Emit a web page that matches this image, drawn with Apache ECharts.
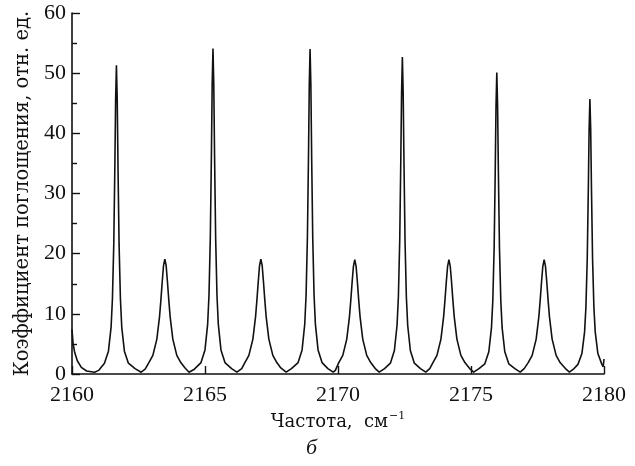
<!DOCTYPE html>
<html>
<head>
<meta charset="utf-8">
<script src="https://cdn.jsdelivr.net/npm/echarts@6/dist/echarts.min.js"></script>
<style>
html,body{margin:0;padding:0;background:#fff;}
#chart{width:635px;height:466px;}
</style>
</head>
<body>
<div id="chart"></div>
<script>
// x-axis settings (cm^-1)
const xMin = 2160, xMax = 2180, xStep = 5;
// y-axis settings
const yMin = 0, yMax = 60, yStep = 10;

// Absorption spectrum: [frequency, absorption], segment by segment
const startTail = [[2160.00,7.4],[2160.04,5.1],[2160.10,3.6],[2160.20,2.2],[2160.35,1.1],[2160.55,0.5],[2160.85,0.3],[2161.00,0.6]];
const peak1 = [[2161.22,1.8],[2161.37,3.8],[2161.47,7.8],[2161.52,12.5],[2161.57,21.5],[2161.61,34.2],[2161.64,45.6],[2161.67,51.3],[2161.70,45.6],[2161.73,34.2],[2161.77,21.5],[2161.82,12.5],[2161.87,7.8],[2161.97,3.8],[2162.12,1.8],[2162.37,0.9],[2162.60,0.3],[2162.75,0.8]];
const peak2 = [[2162.89,1.9],[2163.04,3.1],[2163.19,5.8],[2163.29,9.5],[2163.34,12.2],[2163.39,15.2],[2163.44,18.0],[2163.49,19.1],[2163.54,18.0],[2163.59,15.2],[2163.64,12.2],[2163.69,9.5],[2163.79,5.8],[2163.94,3.1],[2164.09,1.9],[2164.25,1.0],[2164.40,0.3],[2164.60,0.8]];
const peak3 = [[2164.85,1.9],[2165.00,4.0],[2165.10,8.3],[2165.15,13.1],[2165.20,22.7],[2165.24,36.1],[2165.27,48.1],[2165.30,54.1],[2165.33,48.1],[2165.36,36.1],[2165.40,22.7],[2165.45,13.1],[2165.50,8.3],[2165.60,4.0],[2165.75,1.9],[2166.00,0.9],[2166.20,0.3],[2166.38,0.9]];
const peak4 = [[2166.50,1.9],[2166.65,3.1],[2166.80,5.8],[2166.90,9.5],[2166.95,12.2],[2167.00,15.2],[2167.05,18.0],[2167.10,19.1],[2167.15,18.0],[2167.20,15.2],[2167.25,12.2],[2167.30,9.5],[2167.40,5.8],[2167.55,3.1],[2167.70,1.9],[2167.85,1.0],[2168.05,0.3],[2168.25,0.9]];
const peak5 = [[2168.50,1.9],[2168.65,4.0],[2168.75,8.3],[2168.80,13.1],[2168.85,22.7],[2168.89,36.0],[2168.92,48.0],[2168.95,54.0],[2168.98,48.0],[2169.01,36.0],[2169.05,22.7],[2169.10,13.1],[2169.15,8.3],[2169.25,4.0],[2169.40,1.9],[2169.62,0.9],[2169.82,0.3],[2169.90,0.6]];
const peak6 = [[2170.03,1.9],[2170.18,3.1],[2170.33,5.8],[2170.43,9.5],[2170.48,12.2],[2170.53,15.2],[2170.58,17.9],[2170.63,19.0],[2170.68,17.9],[2170.73,15.2],[2170.78,12.2],[2170.83,9.5],[2170.93,5.8],[2171.08,3.1],[2171.23,1.9],[2171.40,0.9],[2171.55,0.3],[2171.75,0.9]];
const peak7 = [[2171.97,1.8],[2172.12,3.9],[2172.22,8.1],[2172.27,12.8],[2172.32,22.1],[2172.36,35.2],[2172.39,46.8],[2172.42,52.7],[2172.45,46.8],[2172.48,35.2],[2172.52,22.1],[2172.57,12.8],[2172.62,8.1],[2172.72,3.9],[2172.87,1.8],[2173.10,0.9],[2173.30,0.3],[2173.45,0.9]];
const peak8 = [[2173.57,1.9],[2173.72,3.1],[2173.87,5.8],[2173.97,9.5],[2174.02,12.2],[2174.07,15.2],[2174.12,17.9],[2174.17,19.0],[2174.22,17.9],[2174.27,15.2],[2174.32,12.2],[2174.37,9.5],[2174.47,5.8],[2174.62,3.1],[2174.77,1.9],[2174.95,0.9],[2175.10,0.3],[2175.30,0.9]];
const peak9 = [[2175.52,1.7],[2175.67,3.7],[2175.77,7.7],[2175.82,12.2],[2175.87,21.0],[2175.91,33.4],[2175.94,44.5],[2175.97,50.1],[2176.00,44.5],[2176.03,33.4],[2176.07,21.0],[2176.12,12.2],[2176.17,7.7],[2176.27,3.7],[2176.42,1.7],[2176.65,0.9],[2176.85,0.3],[2177.00,0.9]];
const peak10 = [[2177.15,1.9],[2177.30,3.1],[2177.45,5.8],[2177.55,9.5],[2177.60,12.2],[2177.65,15.2],[2177.70,17.9],[2177.75,19.0],[2177.80,17.9],[2177.85,15.2],[2177.90,12.2],[2177.95,9.5],[2178.05,5.8],[2178.20,3.1],[2178.35,1.9],[2178.55,0.9],[2178.70,0.3],[2178.85,0.8]];
const peak11 = [[2179.02,1.6],[2179.17,3.4],[2179.27,7.0],[2179.32,11.1],[2179.37,19.1],[2179.41,30.5],[2179.44,40.6],[2179.47,45.7],[2179.50,40.6],[2179.53,30.5],[2179.57,19.1],[2179.62,11.1],[2179.67,7.0],[2179.77,3.4],[2179.92,1.6],[2179.97,1.2],[2180.00,2.5]];

const spectrum = [].concat(startTail, peak1, peak2, peak3, peak4, peak5, peak6, peak7, peak8, peak9, peak10, peak11);

const serif = '"Liberation Serif", "DejaVu Serif", serif';
const wideSerif = '"DejaVu Serif", "Liberation Serif", serif';
const chart = echarts.init(document.getElementById('chart'), null, {renderer: 'canvas'});
chart.setOption({
  animation: false,
  backgroundColor: '#fff',
  grid: {left: 72, right: 31, top: 13, bottom: 92, containLabel: false},
  xAxis: {
    type: 'value', min: xMin, max: xMax, interval: xStep,
    name: '{a|Частота,  см}{s|−1}',
    nameLocation: 'middle', nameGap: 23,
    nameTextStyle: {
      color: '#111', fontFamily: wideSerif, fontSize: 18,
      verticalAlign: 'top',
      rich: {
        a: {fontFamily: wideSerif, fontSize: 18, color: '#111', lineHeight: 22},
        s: {fontFamily: wideSerif, fontSize: 11, color: '#111', lineHeight: 22, verticalAlign: 'top', padding: [0,0,0,1]}
      }
    },
    axisLine: {lineStyle: {color: '#111', width: 1.6}},
    axisTick: {inside: true, length: 8, lineStyle: {color: '#111', width: 1.4}},
    axisLabel: {color: '#111', fontFamily: serif, fontSize: 22, margin: 10, formatter: v => String(v)},
    splitLine: {show: false}
  },
  yAxis: {
    type: 'value', min: yMin, max: yMax, interval: yStep,
    name: 'Коэффициент поглощения, отн. ед.',
    nameLocation: 'middle', nameGap: 36, nameRotate: 90,
    nameTextStyle: {color: '#111', fontFamily: wideSerif, fontSize: 19.5},
    axisLine: {show: true, lineStyle: {color: '#111', width: 1.6}},
    axisTick: {show: true, inside: true, length: 8, lineStyle: {color: '#111', width: 1.4}},
    minorTick: {show: true, splitNumber: 2, length: 5, lineStyle: {color: '#111', width: 1.4}},
    axisLabel: {color: '#111', fontFamily: serif, fontSize: 22, margin: 6, formatter: v => String(v)},
    splitLine: {show: false}
  },
  series: [{
    type: 'line',
    data: spectrum,
    showSymbol: false,
    symbol: 'none',
    lineStyle: {color: '#111', width: 1.6},
    z: 3
  }],
  graphic: [{
    type: 'text',
    left: 306, top: 437,
    style: {text: 'б', font: 'italic 22px ' + serif, fill: '#111'}
  }]
});
</script>
</body>
</html>
